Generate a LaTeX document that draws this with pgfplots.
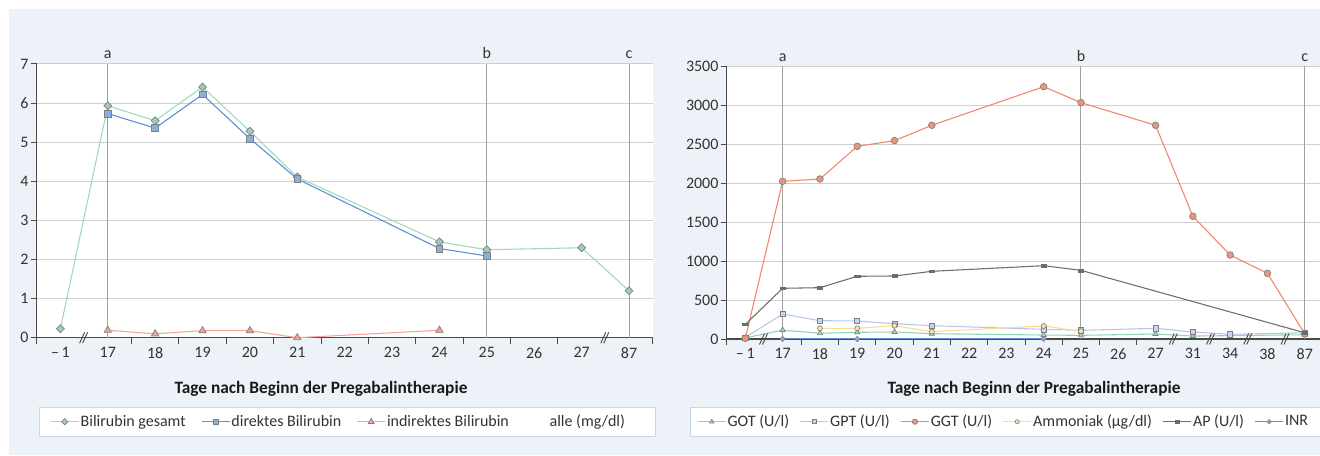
\documentclass[border=0pt]{standalone}
\usepackage{fontspec}
\setmainfont{Carlito}
\usepackage{pgfplots}
\pgfplotsset{compat=1.18}

\definecolor{bg}{HTML}{EDF2F9}
\definecolor{legbord}{HTML}{C8D5EB}
\definecolor{gridc}{HTML}{CFCFCF}
\definecolor{refc}{HTML}{A0A0A0}
\definecolor{axisc}{HTML}{4A4A4A}
\definecolor{tickc}{HTML}{333333}
\definecolor{markbord}{HTML}{7F7F7F}
\definecolor{gesline}{HTML}{9ED9C0}
\definecolor{gesfill}{HTML}{9CCFB6}
\definecolor{dirline}{HTML}{5B8FD6}
\definecolor{dirfill}{HTML}{8BAFDD}
\definecolor{indline}{HTML}{F5A493}
\definecolor{indfill}{HTML}{F3A090}
\definecolor{gotline}{HTML}{90D4B5}
\definecolor{gotfill}{HTML}{A5D9C0}
\definecolor{gptline}{HTML}{B3C7EA}
\definecolor{gptfill}{HTML}{C6D6F0}
\definecolor{ggtline}{HTML}{F0866C}
\definecolor{ggtfill}{HTML}{F0937D}
\definecolor{ammline}{HTML}{FFDA90}
\definecolor{ammfill}{HTML}{FFE2A6}
\definecolor{apline}{HTML}{6D6D6D}
\definecolor{inrline}{HTML}{5B8FD6}
\definecolor{inrfill}{HTML}{8AAEDD}

\pgfplotsset{
  common/.style={
    scale only axis, clip=false,
    axis lines*=left,
    axis line style={draw=axisc, line width=1pt},
    axis background/.style={fill=white},
    ymajorgrids, major grid style={draw=gridc, line width=0.75pt},
    tick align=outside,
    major tick length=4.5pt, minor tick length=4.5pt,
    major x tick style={draw=none},
    minor x tick style={draw=axisc, line width=0.75pt},
    ytick style={draw=axisc, line width=0.75pt},
    ticklabel style={font=\fontsize{12}{14}\selectfont, text=tickc},
    yticklabel style={inner xsep=1.5pt},
    xticklabel style={inner ysep=2.5pt},
    /pgf/number format/.cd, set thousands separator={}, assume math mode=true,
    /pgfplots/.cd,
    legend style={draw=none, fill=none, anchor=west, inner sep=0pt,
      font=\fontsize{12}{14}\selectfont, text=tickc,
      nodes={inner xsep=1pt, inner ysep=0pt}},
    legend columns=-1,
    legend image code/.code={\draw[mark repeat=2,mark phase=2,##1,every mark/.append style={scale=0.8}]
      plot coordinates {(0pt,0pt) (10.5pt,0pt) (21pt,0pt)};},
  },
}

\begin{document}
\begin{tikzpicture}[x=0.75pt,y=0.75pt]
\fill[bg] (9,0) rectangle (1320,446);
\draw[legbord, fill=white, line width=0.75pt] (39.3,19) rectangle (655.7,47.7);
\draw[legbord, fill=white, line width=0.75pt] (690.7,19) rectangle (1330,47.7);

% ---------------- left chart ----------------
\begin{axis}[common,
  at={(27.525pt,87.975pt)}, anchor=south west,
  width=462pt, height=205.3pt,
  xmin=-0.5, xmax=12.5, ymin=0, ymax=7,
  xtick={0,...,12},
  xticklabels={–\,1,17,18,19,20,21,22,23,24,25,26,27,87},
  minor xtick={-0.5,1.5,2.5,3.5,4.5,5.5,6.5,7.5,8.5,9.5,10.5,12.5},
  ytick={0,1,...,7},
  legend style={at={(0.0216,-0.3069)},
    /tikz/every even column/.append style={column sep=10.5pt}},
]
\draw[refc, line width=0.75pt] (axis cs:1,0) -- (axis cs:1,7);
\draw[refc, line width=0.75pt] (axis cs:9,0) -- (axis cs:9,7);
\draw[refc, line width=0.75pt] (axis cs:12,0) -- (axis cs:12,7);
\node[anchor=base, yshift=3.75pt, inner sep=0pt, font=\fontsize{12}{14}\selectfont, text=tickc] at (axis cs:1,7) {a};
\node[anchor=base, yshift=3.75pt, inner sep=0pt, font=\fontsize{12}{14}\selectfont, text=tickc] at (axis cs:9,7) {b};
\node[anchor=base, yshift=3.75pt, inner sep=0pt, font=\fontsize{12}{14}\selectfont, text=tickc] at (axis cs:12,7) {c};

\addplot[gesline, line width=0.8pt, mark=square*, mark size=2.1pt,
  mark options={rotate=45, fill=gesfill, draw=markbord, line width=0.5pt}]
  coordinates {(0,0.23)(1,5.93)(2,5.55)(3,6.41)(4,5.28)(5,4.11)(8,2.45)(9,2.25)(11,2.3)(12,1.2)};
\addlegendentry{Bilirubin gesamt}
\addplot[dirline, line width=0.8pt, mark=square*, mark size=2.5pt,
  mark options={fill=dirfill, draw=markbord, line width=0.5pt}]
  coordinates {(1,5.73)(2,5.36)(3,6.22)(4,5.09)(5,4.06)(8,2.28)(9,2.09)};
\addlegendentry{direktes Bilirubin}
\addplot[indline, line width=0.8pt, mark=triangle*, mark size=3.2pt,
  mark options={fill=indfill, draw=markbord, line width=0.5pt}]
  coordinates {(1,0.19)(2,0.1)(3,0.18)(4,0.18)(5,0.0)(8,0.19)};
\addlegendentry{indirektes Bilirubin}
\addlegendimage{empty legend}
\addlegendentry{\hspace{18pt}alle (mg/dl)}
\end{axis}

% ---------------- right chart ----------------
\begin{axis}[common,
  at={(545.025pt,87pt)}, anchor=south west,
  width=445pt, height=204.75pt,
  xmin=-0.5, xmax=15.41, ymin=0, ymax=3500,
  xtick={0,...,15},
  xticklabels={–\,1,17,18,19,20,21,22,23,24,25,26,27,31,34,38,87},
  minor xtick={-0.5,1.5,2.5,3.5,4.5,5.5,6.5,7.5,8.5,9.5,10.5},
  ytick={0,500,...,3500},
  legend style={at={(-0.0501,-0.3029)},
    /tikz/every even column/.append style={column sep=7pt}},
]
\draw[refc, line width=0.75pt] (axis cs:1,0) -- (axis cs:1,3500);
\draw[refc, line width=0.75pt] (axis cs:9,0) -- (axis cs:9,3500);
\draw[refc, line width=0.75pt] (axis cs:15,0) -- (axis cs:15,3500);
\node[anchor=base, yshift=3.75pt, inner sep=0pt, font=\fontsize{12}{14}\selectfont, text=tickc] at (axis cs:1,3500) {a};
\node[anchor=base, yshift=3.75pt, inner sep=0pt, font=\fontsize{12}{14}\selectfont, text=tickc] at (axis cs:9,3500) {b};
\node[anchor=base, yshift=3.75pt, inner sep=0pt, font=\fontsize{12}{14}\selectfont, text=tickc] at (axis cs:15,3500) {c};

\addplot[gotline, line width=0.8pt, mark=triangle*, mark size=2.3pt,
  mark options={fill=gotfill, draw=markbord, line width=0.5pt}]
  coordinates {(0,15)(1,115)(2,73)(3,86)(4,90)(5,68)(8,51)(9,47)(11,64)(12,38)(13,43)(15,55)};
\addlegendentry{GOT (U/l)}
\addplot[gptline, line width=0.8pt, mark=square*, mark size=1.9pt,
  mark options={fill=gptfill, draw=markbord, line width=0.5pt}]
  coordinates {(0,20)(1,320)(2,235)(3,231)(4,196)(5,171)(8,124)(9,111)(11,137)(12,90)(13,60)(15,80)};
\addlegendentry{GPT (U/l)}
\addplot[ggtline, line width=0.8pt, mark=*, mark size=2.5pt,
  mark options={fill=ggtfill, draw=markbord, line width=0.5pt}]
  coordinates {(0,10)(1,2022)(2,2051)(3,2470)(4,2543)(5,2740)(8,3235)(9,3030)(11,2740)(12,1573)(13,1077)(14,842)(15,64)};
\addlegendentry{GGT (U/l)}
\addplot[ammline, line width=0.8pt, mark=*, mark size=1.9pt,
  mark options={fill=ammfill, draw=markbord, line width=0.5pt}]
  coordinates {(2,137)(3,137)(4,171)(5,94)(8,167)(9,100)};
\addlegendentry{Ammoniak (µg/dl)}
\addplot[apline, line width=0.8pt, mark=square*, mark size=2pt,
  mark options={yscale=0.5, fill=apline, draw=apline, line width=0.3pt}]
  coordinates {(0,188)(1,650)(2,658)(3,804)(4,808)(5,868)(8,940)(9,880)(15,80)};
\addlegendentry{AP (U/l)}
\addplot[inrline, line width=0.8pt, mark=square*, mark size=1.4pt,
  mark options={rotate=45, fill=inrfill, draw=markbord, line width=0.5pt}]
  coordinates {(1,1)(3,1)(8,1)};
\addlegendentry{INR}
\end{axis}

% axis break marks
\foreach \bx/\by in {84.1/117.3, 605.3/117.3, 764/116, 1173.7/116, 1211/116, 1248.2/116, 1285.5/116}{
  \draw[axisc, line width=0.7pt] (\bx-4.5,\by-5.5) -- (\bx+0.5,\by+5.5);
  \draw[axisc, line width=0.7pt] (\bx-1.5,\by-5.5) -- (\bx+3.5,\by+5.5);
}

% axis titles
\node[anchor=base, inner sep=0pt, text=black!90, font=\bfseries\fontsize{13}{15}\selectfont] at (321,61.7) {Tage nach Beginn der Pregabalintherapie};
\node[anchor=base, inner sep=0pt, text=black!90, font=\bfseries\fontsize{13}{15}\selectfont] at (1034,61.7) {Tage nach Beginn der Pregabalintherapie};

\pgfresetboundingbox
\useasboundingbox (0,0) rectangle (1320,455);
\end{tikzpicture}
\end{document}
